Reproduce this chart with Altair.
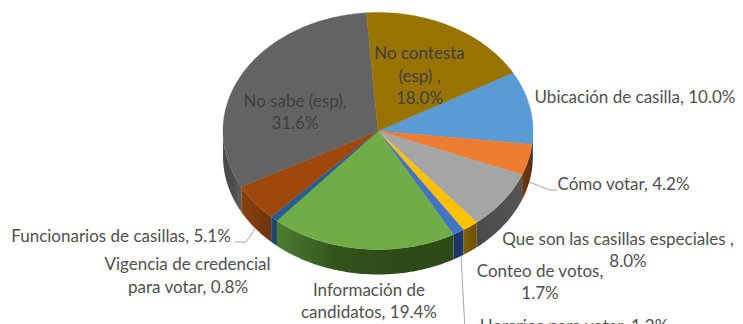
import math
import altair as alt
import pandas as pd

categories = ["Ubicación de casilla", "Cómo votar", "Que son las casillas especiales",
              "Conteo de votos", "Horarios para votar", "Información de candidatos",
              "Vigencia de credencial para votar", "Funcionarios de casillas",
              "No sabe (esp)", "No contesta (esp)"]
shares = [10.0, 4.2, 8.0, 1.7, 1.2, 19.4, 0.8, 5.1, 31.6, 18.0]
top_colors = ["#5B9BD5", "#ED7D31", "#A5A5A5", "#FFC000", "#4472C4",
              "#70AD47", "#255E91", "#9E480E", "#636363", "#997300"]
wall_stops = [["#2c5a85", "#2c5a85"], ["#6e3a14", "#5c2f10"], ["#4a4a4a", "#555555"],
              ["#806000", "#6b5200"], ["#1c3264", "#1f3864"],
              ["#4c7d30", "#33541d", "#2d4a19", "#2d4a19"], ["#1d4a73", "#1a4269"],
              ["#8a4210", "#6e340c"], ["#4a4a4a", "#4a4a4a", "#5e5e5e"], ["#5c4500", "#5c4500"]]

CX, CY, RX, RY, DEPTH = 378 - 8, 131 - 8, 155, 118.5, 25
START = 60.5


def pt(deg, dy=0.0):
    a = math.radians(deg)
    return [CX + RX * math.sin(a), CY - RY * math.cos(a) + dy]


def arc(a, b, dy=0.0):
    n = max(2, int(abs(b - a)) + 2)
    return [pt(a + (b - a) * i / (n - 1), dy) for i in range(n)]


def feature(ring, **props):
    return {"type": "Feature", "properties": props,
            "geometry": {"type": "Polygon", "coordinates": [ring + [ring[0]]]}}


def line_feature(points):
    return {"type": "Feature", "properties": {},
            "geometry": {"type": "LineString", "coordinates": [[x - 8, y - 8] for x, y in points]}}


proj = alt.Projection(type="identity", scale=1, translate=[0, 0])

edges = [START]
for s in shares:
    edges.append(edges[-1] + s * 3.6)

walls, tops = [], []
for i, s in enumerate(shares):
    a, b = edges[i], edges[i + 1]
    tops.append(feature([[CX, CY]] + arc(a, b), color=top_colors[i]))
    lo, hi = max(a, 90), min(b, 270)
    if hi > lo:
        stops = wall_stops[i]
        ring = arc(lo, hi) + arc(hi, lo, DEPTH)
        grad = alt.Gradient(
            gradient="linear", x1=0, x2=1, y1=0, y2=0,
            stops=[alt.GradientStop(offset=k / (len(stops) - 1), color=c) for k, c in enumerate(stops)],
        )
        walls.append(alt.Chart(alt.Data(values=[feature(ring)])).mark_geoshape(
            fill=grad, stroke=None, strokeWidth=0).project(**proj.to_dict()))

top_layer = alt.Chart(alt.Data(values=tops)).mark_geoshape(strokeWidth=0.4).encode(
    fill=alt.Fill("properties.color:N", scale=None, legend=None),
    stroke=alt.Stroke("properties.color:N", scale=None, legend=None),
).project(**proj.to_dict())

leaders = [
    [(235, 242), (246, 242), (255, 229)],
    [(529, 182), (550, 190), (557, 190)],
    [(461, 256), (465, 330)],
]
leader_layer = alt.Chart(alt.Data(values=[line_feature(p) for p in leaders])).mark_geoshape(
    filled=False, stroke="#A6A6A6", strokeWidth=1).project(**proj.to_dict())

label_rows = [
    ("No contesta", 419.5, 54, "#404040"), ("(esp) ,", 419.5, 77, "#404040"), ("18.0%", 419.5, 99, "#404040"),
    ("No sabe (esp),", 295, 102, "#404040"), ("31.6%", 295, 124, "#404040"),
    ("Ubicación de casilla, 10.0%", 635, 98, "#505050"),
    ("Cómo votar, 4.2%", 623.5, 185, "#505050"),
    ("Que son las casillas especiales ,", 618, 240, "#505050"), ("8.0%", 628, 262, "#505050"),
    ("Conteo de votos,", 540, 272, "#505050"), ("1.7%", 540, 294, "#505050"),
    ("Horarios para votar, 1.2%", 574, 327, "#505050"),
    ("Información de", 369, 291, "#505050"), ("candidatos, 19.4%", 369, 313, "#505050"),
    ("Vigencia de credencial", 187.5, 265, "#505050"), ("para votar, 0.8%", 188, 288, "#505050"),
    ("Funcionarios de casillas, 5.1%", 121, 237, "#505050"),
]
labels = pd.DataFrame(label_rows, columns=["text", "px", "py", "ink"])
labels["px"] -= 8
labels["py"] -= 8
label_layer = alt.Chart(labels).mark_text(
    font="Lato", fontSize=17, align="center", baseline="middle"
).encode(
    longitude="px:Q", latitude="py:Q", text="text:N",
    color=alt.Color("ink:N", scale=None, legend=None),
).project(**proj.to_dict())

chart = alt.layer(*walls, top_layer, leader_layer, label_layer).properties(
    width=727, height=330, padding=0,
    autosize=alt.AutoSizeParams(type="none"),
    background="white",
).configure_view(stroke=None)

chart.save("out.html", embed_options={"renderer": "svg", "actions": False})
